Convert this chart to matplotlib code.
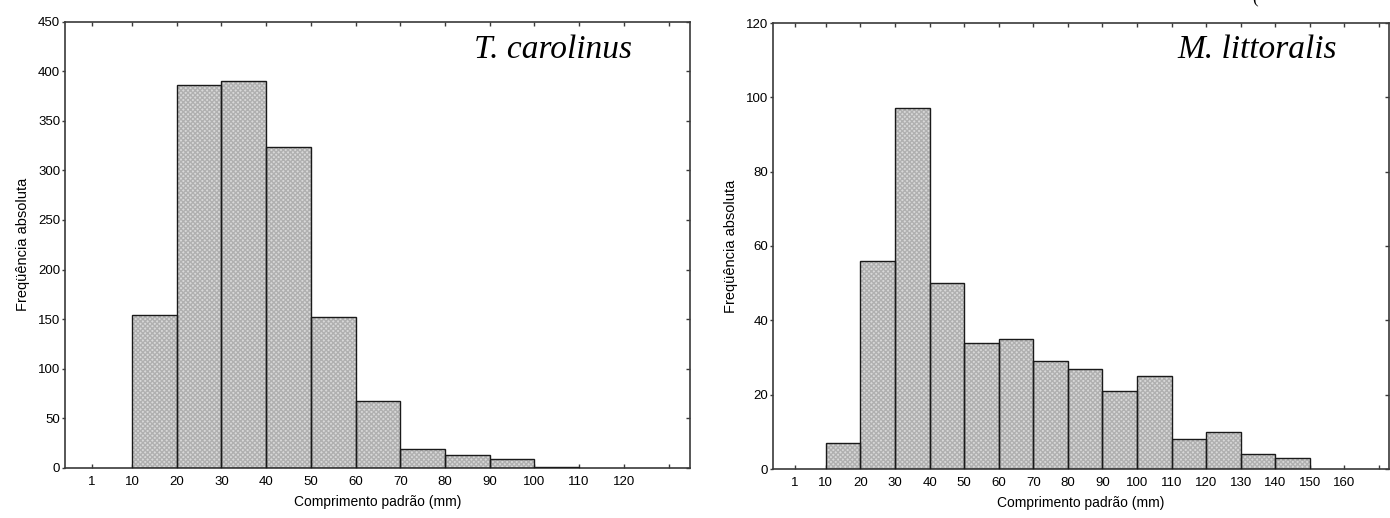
import matplotlib
matplotlib.use("Agg")
import matplotlib.pyplot as plt

# ---- data ----
left_bin_starts = [10, 20, 30, 40, 50, 60, 70, 80, 90, 100]
left_counts = [154, 386, 390, 324, 152, 68, 19, 13, 9, 1]
left_ticks = [1, 10, 20, 30, 40, 50, 60, 70, 80, 90, 100, 110, 120, 130]
left_ticklabels = ["1", "10", "20", "30", "40", "50", "60", "70", "80", "90", "100", "110", "120", ""]
left_yticks = [0, 50, 100, 150, 200, 250, 300, 350, 400, 450]
left_species = "T. carolinus"

right_bin_starts = [10, 20, 30, 40, 50, 60, 70, 80, 90, 100, 110, 120, 130, 140]
right_counts = [7, 56, 97, 50, 34, 35, 29, 27, 21, 25, 8, 10, 4, 3]
right_ticks = [1, 10, 20, 30, 40, 50, 60, 70, 80, 90, 100, 110, 120, 130, 140, 150, 160, 170]
right_ticklabels = ["1", "10", "20", "30", "40", "50", "60", "70", "80", "90", "100", "110",
                    "120", "130", "140", "150", "160", ""]
right_yticks = [0, 20, 40, 60, 80, 100, 120]
right_species = "M. littoralis"

bin_width = 10
xlabel = "Comprimento padrão (mm)"
ylabel = "Freqüência absoluta"

plt.rcParams['font.family'] = ['Liberation Sans', 'DejaVu Sans']

W, H = 1390, 518
fig = plt.figure(figsize=(W / 100, H / 100), dpi=100)

def make_ax(rect_px):
    l, t, r, b = rect_px
    return fig.add_axes([l / W, 1 - b / H, (r - l) / W, (b - t) / H])

ax1 = make_ax((65, 21.5, 690, 468))
ax2 = make_ax((773, 23, 1389, 469))

spine_col = '#3a3a3a'

def style(ax, starts, counts, ticks, ticklabels, yticks, xlim, ylim, species, sp_x, sp_y):
    ax.bar(starts, counts, width=bin_width, align='edge', color='#d8d8d8',
           edgecolor='#b0b0b0', hatch='xxxxxxx', linewidth=0, zorder=2)
    ax.bar(starts, counts, width=bin_width, align='edge', fill=False,
           edgecolor='#1a1a1a', linewidth=1.0, zorder=3)
    ax.set_xlim(*xlim)
    ax.set_ylim(*ylim)
    ax.set_xticks(ticks)
    ax.set_xticklabels(ticklabels)
    ax.set_yticks(yticks)
    for s in ax.spines.values():
        s.set_color(spine_col)
        s.set_linewidth(1.2)
    ax.tick_params(axis='x', direction='in', top=True, bottom=True, length=3,
                   width=1, color=spine_col, labelsize=9.5, pad=6)
    ax.tick_params(axis='y', direction='out', left=True, right=False, length=2.5,
                   width=1, color=spine_col, labelsize=9.5, pad=1)
    ax_r = ax.secondary_yaxis('right')
    ax_r.set_yticks(yticks)
    ax_r.tick_params(direction='in', length=3, width=1, color=spine_col, labelright=False)
    ax_r.spines['right'].set_visible(False)
    ax.set_xlabel(xlabel, fontsize=10, labelpad=5)
    ax.set_ylabel(ylabel, fontsize=10.5, labelpad=6)
    ax.text(sp_x, sp_y, species, transform=ax.transAxes, fontsize=24,
            family=['Liberation Serif', 'DejaVu Serif'], style='italic',
            ha='center', va='center')

style(ax1, left_bin_starts, left_counts, left_ticks, left_ticklabels, left_yticks,
      (-5.0, 134.8), (0, 450), left_species, 0.78, 0.936)
style(ax2, right_bin_starts, right_counts, right_ticks, right_ticklabels, right_yticks,
      (-5.3, 172.9), (0, 120), right_species, 0.786, 0.94)

fig.text(1255 / W, 1 - 3 / H, "(", fontsize=12, family=['Liberation Serif', 'DejaVu Serif'],
         ha='center', va='baseline')

fig.savefig("out.png", dpi=100)
